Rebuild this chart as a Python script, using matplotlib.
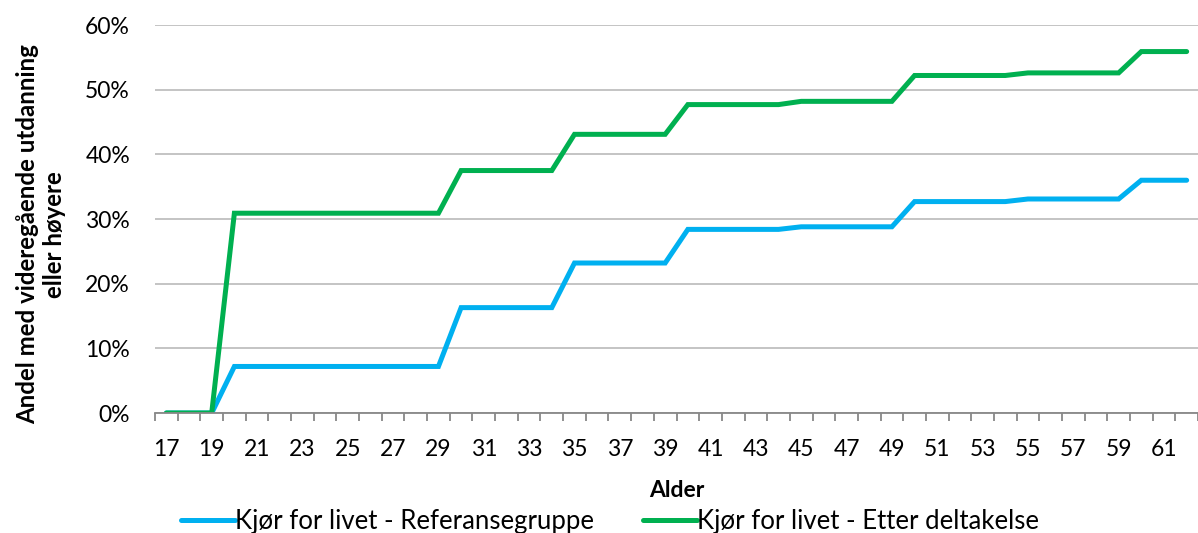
import matplotlib
matplotlib.use('Agg')
import matplotlib.pyplot as plt
from matplotlib.ticker import FuncFormatter, MultipleLocator
import numpy as np

plt.rcParams['font.family'] = ['Lato', 'DejaVu Sans']

# ages 17..62 (category axis)
ages = list(range(17, 63))

# level per age group
referanse_levels = [0.0, 0.0, 0.0, 0.072, 0.072, 0.072, 0.072, 0.072, 0.072, 0.072, 0.072, 0.072, 0.072,
                    0.163, 0.163, 0.163, 0.163, 0.163,
                    0.232, 0.232, 0.232, 0.232, 0.232,
                    0.284, 0.284, 0.284, 0.284, 0.284,
                    0.288, 0.288, 0.288, 0.288, 0.288,
                    0.327, 0.327, 0.327, 0.327, 0.327,
                    0.331, 0.331, 0.331, 0.331, 0.331,
                    0.360, 0.360, 0.360]
deltakelse_levels = [0.0, 0.0, 0.0, 0.309, 0.309, 0.309, 0.309, 0.309, 0.309, 0.309, 0.309, 0.309, 0.309,
                     0.375, 0.375, 0.375, 0.375, 0.375,
                     0.431, 0.431, 0.431, 0.431, 0.431,
                     0.477, 0.477, 0.477, 0.477, 0.477,
                     0.482, 0.482, 0.482, 0.482, 0.482,
                     0.522, 0.522, 0.522, 0.522, 0.522,
                     0.526, 0.526, 0.526, 0.526, 0.526,
                     0.559, 0.559, 0.559]

series_names = ['Kjør for livet - Referansegruppe', 'Kjør for livet - Etter deltakelse']
colors = ['#00B0F0', '#00B050']

fig = plt.figure(figsize=(11.98, 5.33), dpi=100)
ax = fig.add_axes([0.1294, 0.2251, 0.8706, 0.7279])

for vals, name, c in zip([referanse_levels, deltakelse_levels], series_names, colors):
    ax.plot(ages, vals, color=c, lw=3.6, label=name, solid_capstyle='round', solid_joinstyle='miter')

ax.set_xlim(16.5, 62.5)
ax.set_ylim(0, 0.6)
ax.yaxis.set_major_locator(MultipleLocator(0.1))
ax.yaxis.set_major_formatter(FuncFormatter(lambda v, p: '%d%%' % round(v * 100)))
ax.grid(axis='y', color='#BFBFBF', lw=1.3)
ax.set_axisbelow(True)

# labels on odd ages, tick marks between categories
ax.set_xticks(ages[::2])
ax.set_xticks(np.arange(16.5, 63, 1), minor=True)
ax.tick_params(axis='x', which='major', length=0, pad=19, labelsize=16.5)
ax.tick_params(axis='x', which='minor', length=6, width=1.3, color='#888888', direction='out')
ax.tick_params(axis='y', length=0, pad=18, labelsize=16.5)

for s in ['top', 'right', 'left']:
    ax.spines[s].set_visible(False)
ax.spines['bottom'].set_color('#888888')
ax.spines['bottom'].set_linewidth(1.3)

ax.set_xlabel('Alder', fontsize=16.5, fontweight='bold')
ax.xaxis.set_label_coords(0.5, -0.172)
ax.set_ylabel('Andel med videregående utdanning\neller høyere', fontsize=17.3, fontweight='bold',
              linespacing=1.2)
ax.yaxis.set_label_coords(-0.085, 0.461)

ax.legend(loc='center', bbox_to_anchor=(0.436, -0.28), ncol=2, frameon=False, fontsize=18.5,
          handlelength=2.1, handletextpad=0.0, columnspacing=1.9)

fig.savefig('out.png', dpi=100)
